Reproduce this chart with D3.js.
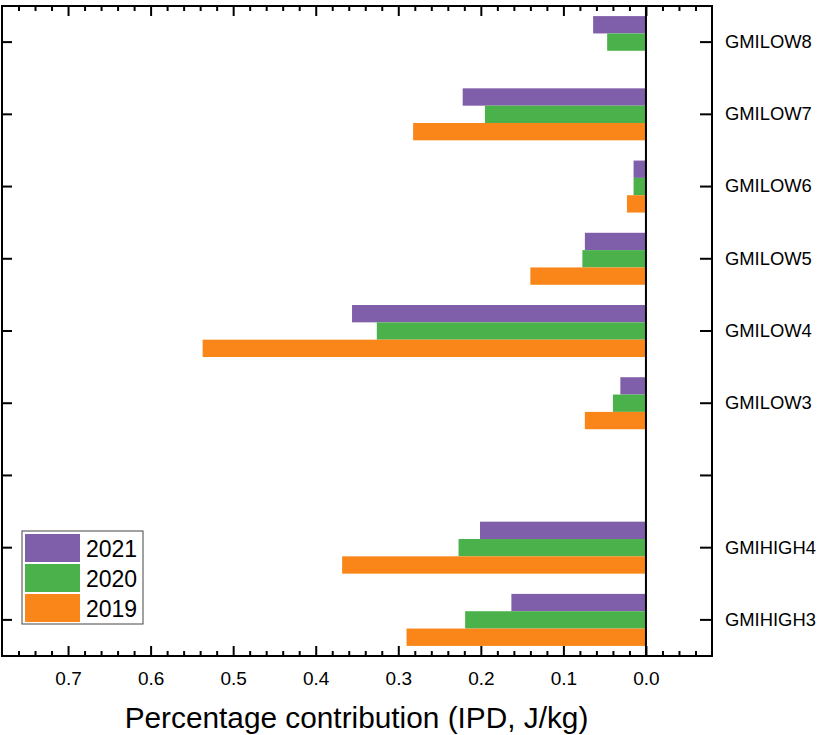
<!DOCTYPE html>
<html>
<head>
<meta charset="utf-8">
<script src="https://cdn.jsdelivr.net/npm/d3@7"></script>
<style>
  body { margin: 0; background: #fff; }
  svg { font-family: Arial, "Liberation Sans", sans-serif; }
</style>
</head>
<body>
<svg id="chart" width="821" height="735"></svg>
<script>
// categories top to bottom, the empty one is a spacer row
const categories = ['GMILOW8', 'GMILOW7', 'GMILOW6', 'GMILOW5', 'GMILOW4', 'GMILOW3', '', 'GMIHIGH4', 'GMIHIGH3'];
const years = ['2021', '2020', '2019'];
const v2021 = [0.064, 0.222, 0.015, 0.074, 0.356, 0.031, 0, 0.201, 0.163];
const v2020 = [0.047, 0.195, 0.015, 0.077, 0.326, 0.040, 0, 0.227, 0.219];
const v2019 = [0, 0.282, 0.023, 0.140, 0.537, 0.074, 0, 0.368, 0.290];
const majorTicks = [0.7, 0.6, 0.5, 0.4, 0.3, 0.2, 0.1, 0.0];
const colors = {'2021': '#7f5fa9', '2020': '#4bb14a', '2019': '#fa8518'};

const values = {'2021': v2021, '2020': v2020, '2019': v2019};

const plotL = 2, plotR = 712, plotT = 6, plotB = 656;
const svg = d3.select('#chart');

const x = d3.scaleLinear().domain([0.78, -0.08]).range([plotL, plotR]);
const y = d3.scaleBand().domain(categories).range([plotT, plotB]);
const bw = y.bandwidth();
const ySub = d3.scaleBand().domain(years).range([bw * 0.14, bw * 0.86]);

// bars
years.forEach(yr => {
  svg.append('g').selectAll('rect')
    .data(categories.map((c, i) => ({c: c, v: values[yr][i]})).filter(d => d.v > 0))
    .enter().append('rect')
    .attr('x', d => x(d.v))
    .attr('width', d => x(0) - x(d.v))
    .attr('y', d => y(d.c) + ySub(yr))
    .attr('height', ySub.bandwidth())
    .attr('fill', colors[yr]);
});

// minor ticks every 0.02
const minorTicks = d3.range(-0.06, 0.78, 0.02).map(v => +v.toFixed(2))
  .filter(v => !majorTicks.some(m => Math.abs(m - v) < 1e-6));

function styleAxis(g) {
  g.select('.domain').remove();
  g.selectAll('line').attr('stroke', '#000').attr('stroke-width', 2);
}

// bottom axis
svg.append('g').attr('transform', `translate(0,${plotB})`)
  .call(d3.axisBottom(x).tickValues(minorTicks).tickSize(-5).tickFormat(''))
  .call(styleAxis);
svg.append('g').attr('transform', `translate(0,${plotB})`)
  .call(d3.axisBottom(x).tickValues(majorTicks).tickSize(-10).tickPadding(15.5).tickFormat(d3.format('.1f')))
  .call(styleAxis)
  .call(g => g.selectAll('text').attr('font-size', 19).attr('fill', '#000').attr('font-family', 'Arial, "Liberation Sans", sans-serif'));

// top axis
svg.append('g').attr('transform', `translate(0,${plotT})`)
  .call(d3.axisTop(x).tickValues(minorTicks).tickSize(-5).tickFormat(''))
  .call(styleAxis);
svg.append('g').attr('transform', `translate(0,${plotT})`)
  .call(d3.axisTop(x).tickValues(majorTicks).tickSize(-10).tickFormat(''))
  .call(styleAxis);

// left axis, ticks only
svg.append('g').attr('transform', `translate(${plotL},0)`)
  .call(d3.axisLeft(y).tickSize(-10).tickFormat(''))
  .call(styleAxis);

// right axis with labels
svg.append('g').attr('transform', `translate(${plotR},0)`)
  .call(d3.axisRight(y).tickSizeInner(-12).tickSizeOuter(0).tickPadding(13))
  .call(styleAxis)
  .call(g => g.selectAll('text').attr('font-size', 18.4).attr('fill', '#000').attr('font-family', 'Arial, "Liberation Sans", sans-serif'));

// frame and zero line
svg.append('rect')
  .attr('x', plotL).attr('y', plotT)
  .attr('width', plotR - plotL).attr('height', plotB - plotT)
  .attr('fill', 'none').attr('stroke', '#000').attr('stroke-width', 2);
svg.append('line')
  .attr('x1', x(0)).attr('x2', x(0)).attr('y1', plotT).attr('y2', plotB)
  .attr('stroke', '#000').attr('stroke-width', 2);

// axis title
svg.append('text')
  .attr('x', (125 + 588) / 2).attr('y', 728)
  .attr('text-anchor', 'middle').attr('font-size', 29.8)
  .text('Percentage contribution (IPD, J/kg)');

// legend
const lg = svg.append('g').attr('transform', 'translate(22,531)');
lg.append('rect').attr('width', 121).attr('height', 93)
  .attr('fill', '#fff').attr('stroke', '#444').attr('stroke-width', 1);
years.forEach((yr, i) => {
  lg.append('rect').attr('x', 3).attr('y', 3 + i * 30)
    .attr('width', 55).attr('height', 28).attr('fill', colors[yr]);
  lg.append('text').attr('x', 64).attr('y', 25.5 + i * 30)
    .attr('font-size', 23).text(yr);
});
</script>
</body>
</html>
